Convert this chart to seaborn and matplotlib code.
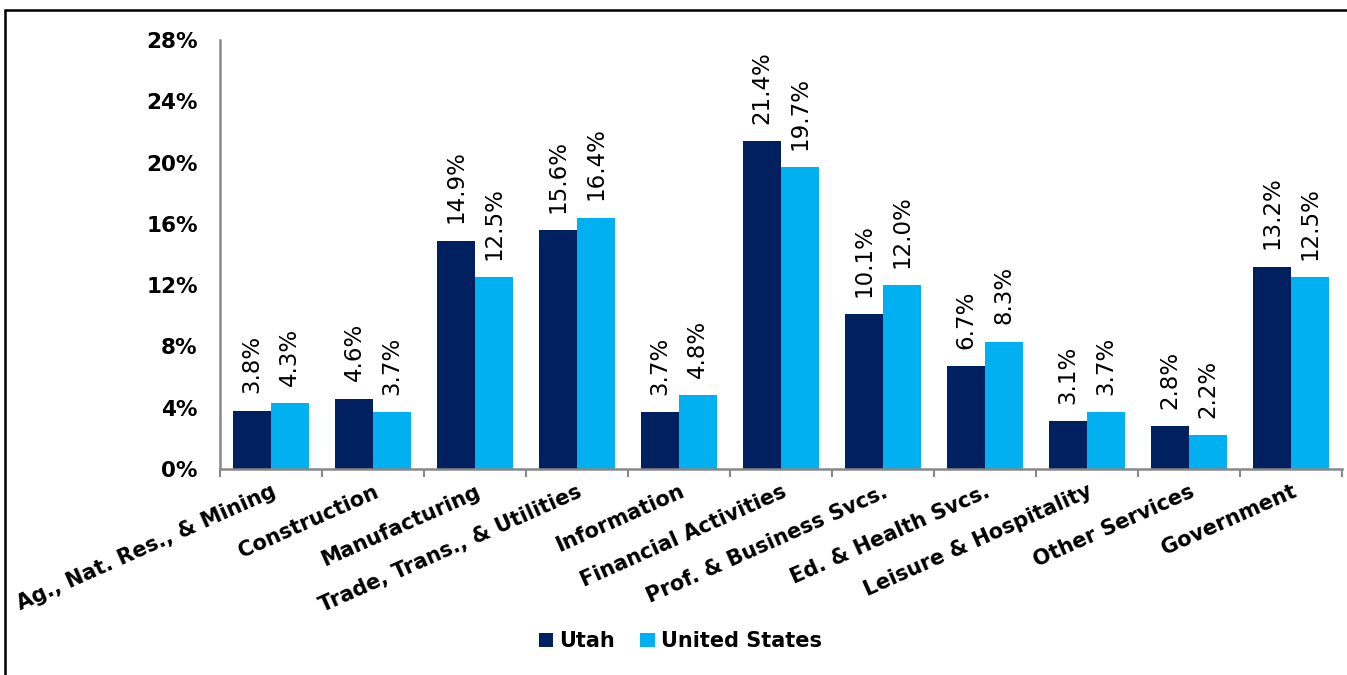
import matplotlib
matplotlib.use("Agg")
import matplotlib.pyplot as plt
from matplotlib.patches import Rectangle
from matplotlib.ticker import FixedLocator, PercentFormatter
import numpy as np
import pandas as pd
import seaborn as sns

categories = [
    "Ag., Nat. Res., & Mining", "Construction", "Manufacturing",
    "Trade, Trans., & Utilities", "Information", "Financial Activities",
    "Prof. & Business Svcs.", "Ed. & Health Svcs.", "Leisure & Hospitality",
    "Other Services", "Government",
]
utah = [3.8, 4.6, 14.9, 15.6, 3.7, 21.4, 10.1, 6.7, 3.1, 2.8, 13.2]
united_states = [4.3, 3.7, 12.5, 16.4, 4.8, 19.7, 12.0, 8.3, 3.7, 2.2, 12.5]
series_names = ["Utah", "United States"]
y_ticks = [0, 4, 8, 12, 16, 20, 24, 28]

df = pd.DataFrame({
    "Industry": categories * 2,
    "Share": utah + united_states,
    "Area": [series_names[0]] * len(categories) + [series_names[1]] * len(categories),
})

sns.set_theme(style="white")
plt.rcParams["font.family"] = ["DejaVu Sans"]
plt.rcParams["text.color"] = "black"
plt.rcParams["xtick.color"] = "black"
plt.rcParams["ytick.color"] = "black"

fig = plt.figure(figsize=(13.47, 6.75), dpi=100)
ax = fig.add_axes([0.1633, 0.3052, 0.8330, 0.6355])

palette = {"Utah": "#002060", "United States": "#00B0F0"}
sns.barplot(data=df, x="Industry", y="Share", hue="Area", order=categories,
            hue_order=series_names, palette=palette, width=0.74,
            saturation=1, linewidth=0, ax=ax, legend=True)

# value labels above each bar
for container in ax.containers:
    for bar in container:
        h = bar.get_height()
        ax.annotate(f"{h:.1f}%", (bar.get_x() + bar.get_width() / 2, h),
                    xytext=(0, 12.5), textcoords="offset points",
                    rotation=90, ha="center", va="bottom",
                    fontsize=16.5, color="black")

ax.set_xlim(-0.5, len(categories) - 0.5)
ax.set_ylim(0, 28)
ax.set_yticks(y_ticks)
ax.yaxis.set_major_formatter(PercentFormatter(decimals=0))
ax.tick_params(axis="y", length=0, pad=16, labelsize=15.5, labelcolor="black")
for lbl in ax.get_yticklabels():
    lbl.set_fontweight("bold")

ax.set_xlabel("")
ax.set_ylabel("")
ax.set_xticks(range(len(categories)))
ax.set_xticklabels(categories, rotation=24, ha="right", rotation_mode="anchor",
                   fontsize=15, fontweight="bold", color="black")
ax.tick_params(axis="x", which="major", length=0, pad=9)
ax.xaxis.set_minor_locator(FixedLocator(np.arange(-0.5, len(categories), 1.0)))
ax.tick_params(axis="x", which="minor", length=6, width=1.5, color="#888888",
               direction="out", bottom=True)

for side in ["top", "right"]:
    ax.spines[side].set_visible(False)
for side in ["left", "bottom"]:
    ax.spines[side].set_color("#888888")
    ax.spines[side].set_linewidth(1.8)

ax.get_legend().remove()
handles, labels = ax.get_legend_handles_labels()
fig.legend(handles[:2], labels[:2], loc="center", bbox_to_anchor=(0.505, 0.05),
           ncol=2, frameon=False, handlelength=0.7, handleheight=0.7,
           handletextpad=0.3, columnspacing=1.2,
           prop={"weight": "bold", "size": 15})

# outer frame around the chart area
fig.patches.append(Rectangle((0.0037, -0.1), 1.2, 1.1 - 10 / 675,
                             transform=fig.transFigure, fill=False,
                             edgecolor="black", linewidth=1.8))

fig.savefig("out.png", dpi=100)
